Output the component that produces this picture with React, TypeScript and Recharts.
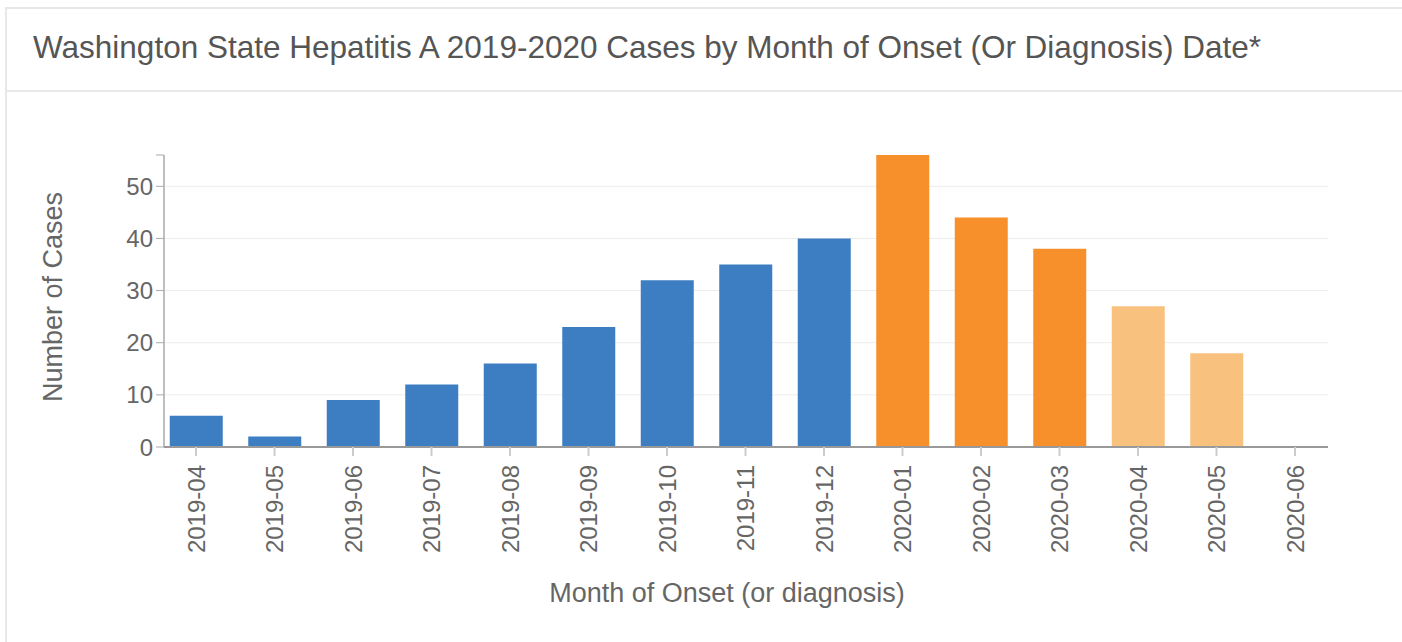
import React from "react";
import { BarChart, Bar, XAxis, YAxis, CartesianGrid, Cell } from "recharts";

// month of onset (or diagnosis)
const months = [
  "2019-04", "2019-05", "2019-06", "2019-07", "2019-08", "2019-09", "2019-10", "2019-11",
  "2019-12", "2020-01", "2020-02", "2020-03", "2020-04", "2020-05", "2020-06",
];
const cases = [6, 2, 9, 12, 16, 23, 32, 35, 40, 56, 44, 38, 27, 18, 0];
// which reporting group each month falls in
const groups = [
  "2019", "2019", "2019", "2019", "2019", "2019", "2019", "2019",
  "2019", "2020", "2020", "2020", "recent", "recent", "recent",
];
const yTicks = [0, 10, 20, 30, 40, 50, 56];
const gridValues = [10, 20, 30, 40, 50];

const groupColor: Record<string, string> = {
  "2019": "#3d7ec3",
  "2020": "#f78f2b",
  recent: "#f9c17e",
};

const data = months.map((m, i) => ({ month: m, cases: cases[i], group: groups[i] }));

const FONT = "'Liberation Sans', Arial, Helvetica, sans-serif";

const XTick = (props: any) => {
  const { x, y, payload } = props;
  return (
    <text
      x={x}
      y={y + 7}
      transform={`rotate(-90, ${x}, ${y + 7})`}
      textAnchor="end"
      dominantBaseline="central"
      fill="#666"
      fontSize={24}
      fontFamily={FONT}
    >
      {payload.value}
    </text>
  );
};

const YTick = (props: any) => {
  const { x, y, payload } = props;
  if (payload.value === 56) return <g />;
  return (
    <text x={x} y={y} textAnchor="end" dominantBaseline="central" fill="#666" fontSize={24} fontFamily={FONT}>
      {payload.value}
    </text>
  );
};

export default function App() {
  return (
    <div style={{ position: "fixed", inset: 0, overflow: "hidden", background: "#fff" }}>
      <div
        style={{
          position: "absolute",
          left: 5,
          top: 7,
          width: 1440,
          height: 700,
          border: "2px solid #e8e8e8",
          boxSizing: "border-box",
        }}
      />
      <div style={{ position: "absolute", left: 5, top: 90, width: 1440, height: 2, background: "#e8e8e8" }} />
      <div
        style={{
          position: "absolute",
          left: 33,
          top: 29,
          fontFamily: FONT,
          fontSize: 31.5,
          lineHeight: "36px",
          color: "#555",
          whiteSpace: "nowrap",
        }}
      >
        Washington State Hepatitis A 2019-2020 Cases by Month of Onset (Or Diagnosis) Date*
      </div>
      <div style={{ position: "absolute", left: 0, top: 0 }}>
        <BarChart width={1402} height={642} data={data} margin={{ top: 155, right: 74, bottom: 0, left: 0 }}>
          <CartesianGrid horizontal vertical={false} horizontalValues={gridValues} stroke="#ececec" />
          <YAxis
            width={164}
            domain={[0, 56]}
            ticks={yTicks}
            interval={0}
            tickSize={8}
            tickMargin={3}
            tick={<YTick />}
            axisLine={{ stroke: "#aaa", strokeWidth: 1.5 }}
            tickLine={{ stroke: "#aaa" }}
            label={{
              content: (p: any) => {
                const vb = p.viewBox;
                const cx = vb.x + 53;
                const cy = vb.y + vb.height / 2 - 4;
                return (
                  <text
                    x={cx}
                    y={cy}
                    transform={`rotate(-90, ${cx}, ${cy})`}
                    textAnchor="middle"
                    dominantBaseline="central"
                    fill="#666"
                    fontSize={27}
                    fontFamily={FONT}
                  >
                    Number of Cases
                  </text>
                );
              },
            }}
          />
          <XAxis
            dataKey="month"
            scale="point"
            padding={{ left: 32, right: 33 }}
            height={195}
            interval={0}
            tickSize={9}
            tick={<XTick />}
            axisLine={{ stroke: "#999", strokeWidth: 2 }}
            tickLine={{ stroke: "#ccc", strokeWidth: 2 }}
            label={{
              content: (p: any) => {
                const vb = p.viewBox;
                return (
                  <text
                    x={vb.x + vb.width / 2 - 19}
                    y={vb.y + 146}
                    textAnchor="middle"
                    dominantBaseline="central"
                    fill="#666"
                    fontSize={27}
                    fontFamily={FONT}
                  >
                    Month of Onset (or diagnosis)
                  </text>
                );
              },
            }}
          />
          <Bar dataKey="cases" barSize={53} isAnimationActive={false}>
            {data.map((d) => (
              <Cell key={d.month} fill={groupColor[d.group]} />
            ))}
          </Bar>
        </BarChart>
      </div>
    </div>
  );
}
